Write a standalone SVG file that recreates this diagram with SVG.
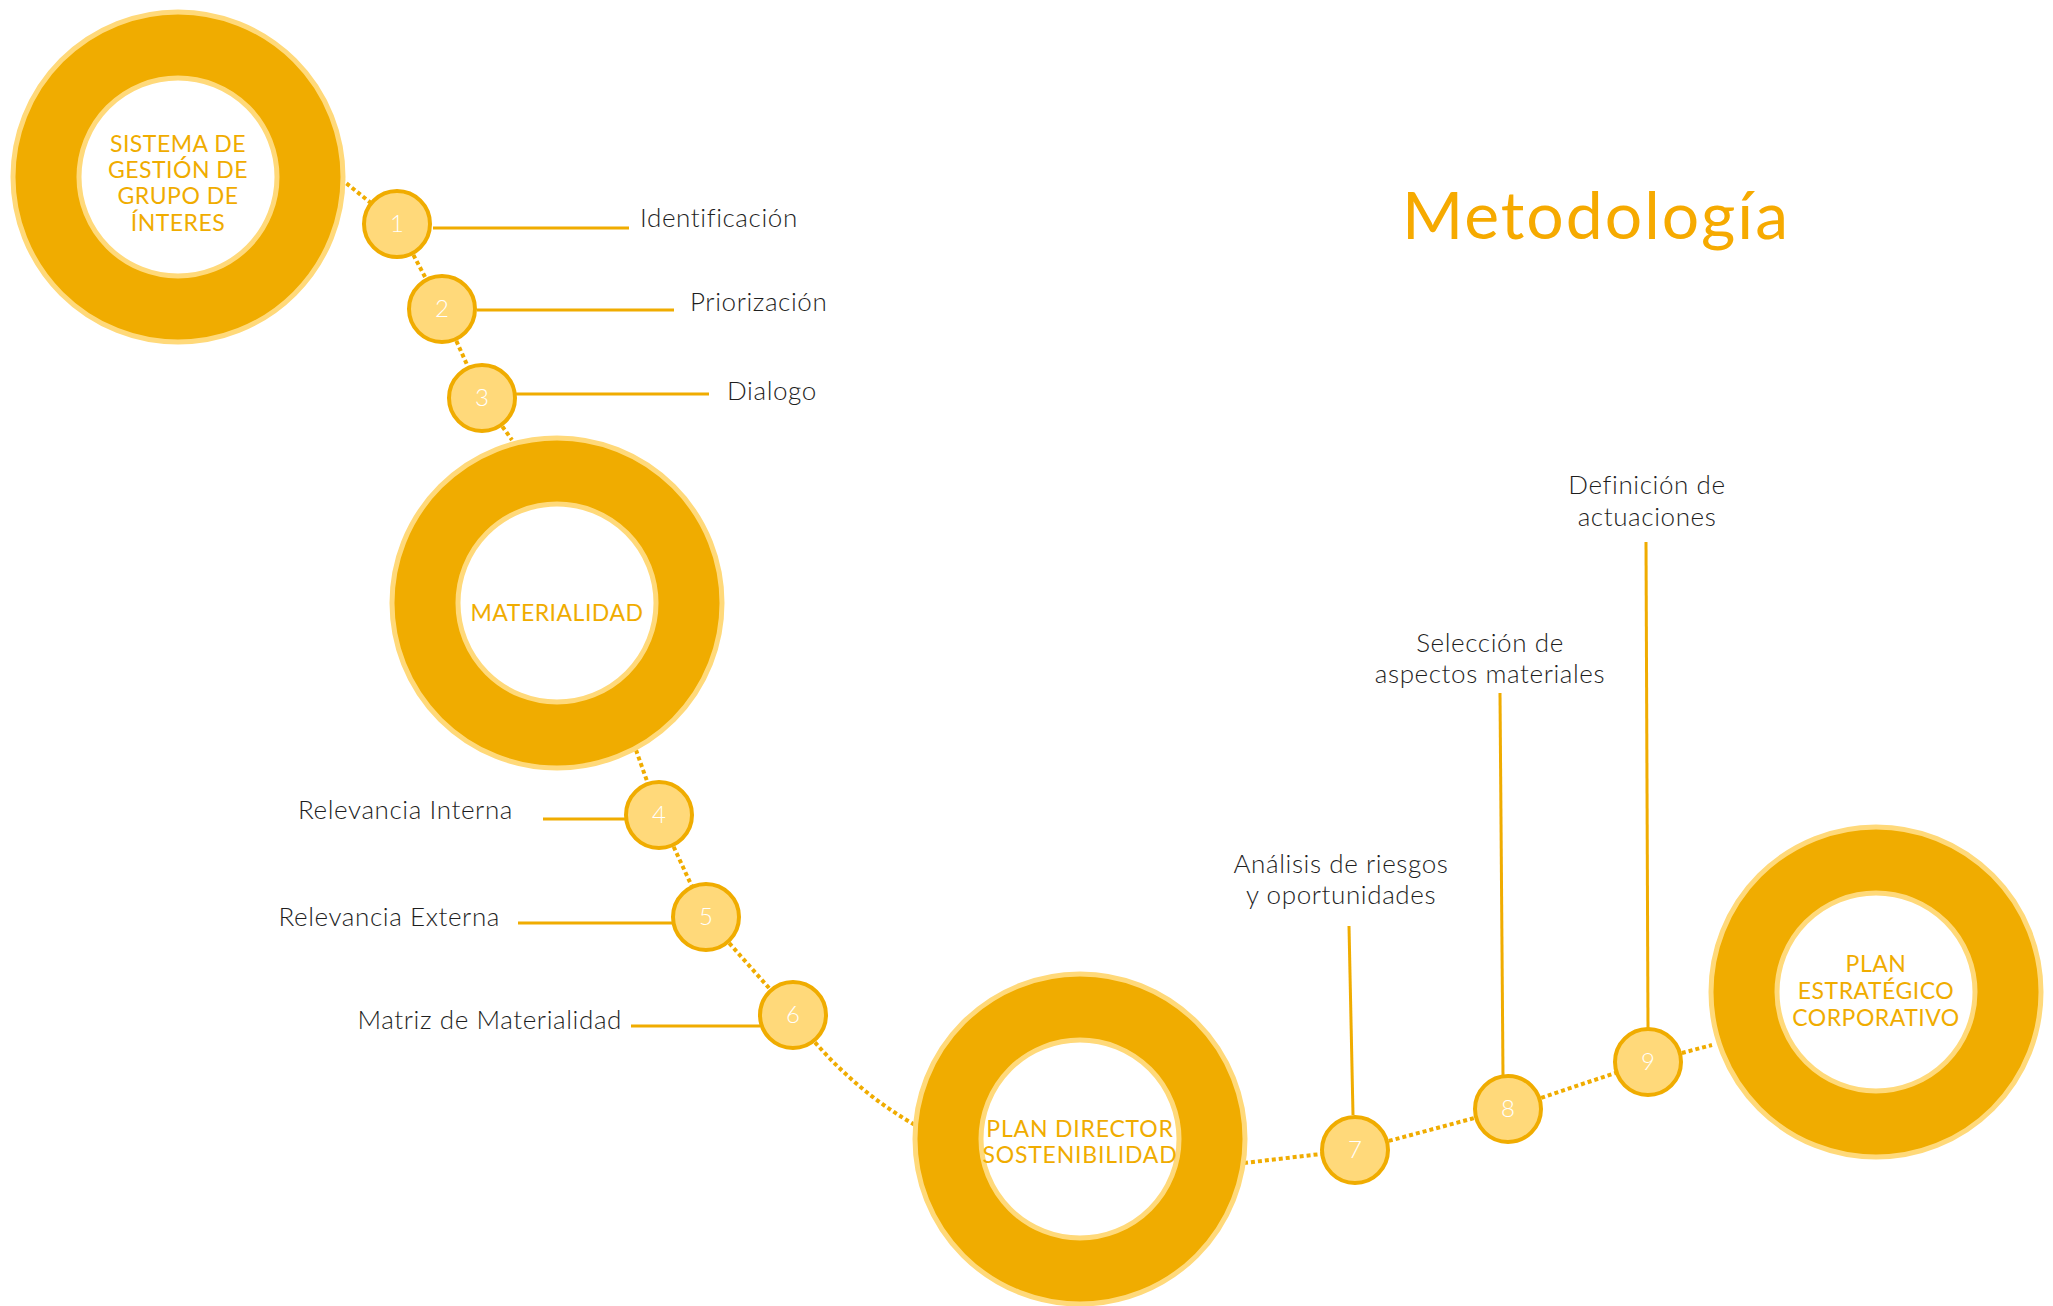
<svg xmlns="http://www.w3.org/2000/svg" width="2053" height="1306" viewBox="0 0 2053 1306">
<style>
.ring-o{fill:#F0AC00;stroke:#FFD97A;stroke-width:5}
.ring-i{fill:#FFFFFF;stroke:#FFD97A;stroke-width:5}
.ring-t{font-family:Lato,"Open Sans","Liberation Sans",sans-serif;font-size:23px;letter-spacing:0.5px;fill:#F0AC00;text-anchor:middle}
.step{fill:#FFD97A;stroke:#F0AC00;stroke-width:4}
.num{font-family:Lato,"Open Sans","Liberation Sans",sans-serif;font-weight:300;font-size:24px;fill:#FFFFFF;text-anchor:middle}
.lbl{font-family:Lato,"Open Sans","Liberation Sans",sans-serif;font-weight:300;font-size:26px;letter-spacing:0.6px;fill:#1E1E1E}
.dot{fill:none;stroke:#F0AC00;stroke-width:4;stroke-dasharray:4 3}
.lead{fill:none;stroke:#F0AC00;stroke-width:3}
.title{font-family:Lato,"Open Sans","Liberation Sans",sans-serif;font-size:66px;letter-spacing:2px;fill:#F6AA00}
</style>
<rect width="2053" height="1306" fill="#FFFFFF"/>
<g id="connectors">
<path class="dot" d="M341 179 L397 224"/>
<path class="dot" d="M397 224 L442 309"/>
<path class="dot" d="M442 309 L482 398"/>
<path class="dot" d="M482 398 L512 440"/>
<path class="dot" d="M636 750 L659 815"/>
<path class="dot" d="M659 815 L706 917"/>
<path class="dot" d="M706 917 L793 1015"/>
<path class="dot" d="M793 1015 Q845 1085 915 1125"/>
<path class="dot" d="M1244 1163 L1355 1150"/>
<path class="dot" d="M1355 1150 L1508 1109"/>
<path class="dot" d="M1508 1109 L1648 1062"/>
<path class="dot" d="M1648 1062 L1712 1045"/>
<path class="lead" d="M433 228 H629"/>
<path class="lead" d="M477 310 H674"/>
<path class="lead" d="M516 394 H709"/>
<path class="lead" d="M543 819 H625"/>
<path class="lead" d="M518 923 H672"/>
<path class="lead" d="M631 1026 H760"/>
<path class="lead" d="M1349 926 L1353 1115"/>
<path class="lead" d="M1500 693 L1503 1075"/>
<path class="lead" d="M1646 542 L1648 1028"/>
</g>
<g id="ring-sistema">
<circle class="ring-o" cx="178" cy="177" r="165"/>
<circle class="ring-i" cx="178" cy="177" r="99"/>
<text class="ring-t" x="178" y="152">SISTEMA DE</text>
<text class="ring-t" x="178" y="178">GESTIÓN DE</text>
<text class="ring-t" x="178" y="204">GRUPO DE</text>
<text class="ring-t" x="178" y="231">ÍNTERES</text>
</g>
<g id="ring-materialidad">
<circle class="ring-o" cx="557" cy="603" r="165"/>
<circle class="ring-i" cx="557" cy="603" r="99"/>
<text class="ring-t" x="557" y="621">MATERIALIDAD</text>
</g>
<g id="ring-plan-director">
<circle class="ring-o" cx="1080" cy="1139" r="165"/>
<circle class="ring-i" cx="1080" cy="1139" r="99"/>
<text class="ring-t" x="1080" y="1137" style="letter-spacing:0.8px">PLAN DIRECTOR</text>
<text class="ring-t" x="1080" y="1163" style="letter-spacing:0.8px">SOSTENIBILIDAD</text>
</g>
<g id="ring-plan-estrategico">
<circle class="ring-o" cx="1876" cy="992" r="165"/>
<circle class="ring-i" cx="1876" cy="992" r="99"/>
<text class="ring-t" x="1876" y="972">PLAN</text>
<text class="ring-t" x="1876" y="999">ESTRATÉGICO</text>
<text class="ring-t" x="1876" y="1026">CORPORATIVO</text>
</g>
<g id="step-1"><circle class="step" cx="397" cy="224" r="33"/><text class="num" x="397" y="232">1</text><text class="lbl" x="640" y="227">Identificación</text></g>
<g id="step-2"><circle class="step" cx="442" cy="309" r="33"/><text class="num" x="442" y="317">2</text><text class="lbl" x="690" y="311">Priorización</text></g>
<g id="step-3"><circle class="step" cx="482" cy="398" r="33"/><text class="num" x="482" y="406">3</text><text class="lbl" x="727" y="400">Dialogo</text></g>
<g id="step-4"><circle class="step" cx="659" cy="815" r="33"/><text class="num" x="659" y="823">4</text><text class="lbl" x="513" y="819" text-anchor="end">Relevancia Interna</text></g>
<g id="step-5"><circle class="step" cx="706" cy="917" r="33"/><text class="num" x="706" y="925">5</text><text class="lbl" x="500" y="926" text-anchor="end">Relevancia Externa</text></g>
<g id="step-6"><circle class="step" cx="793" cy="1015" r="33"/><text class="num" x="793" y="1023">6</text><text class="lbl" x="622" y="1029" text-anchor="end">Matriz de Materialidad</text></g>
<g id="step-7"><circle class="step" cx="1355" cy="1150" r="33"/><text class="num" x="1355" y="1158">7</text><text class="lbl" x="1341" y="873" text-anchor="middle">Análisis de riesgos</text><text class="lbl" x="1341" y="904" text-anchor="middle">y oportunidades</text></g>
<g id="step-8"><circle class="step" cx="1508" cy="1109" r="33"/><text class="num" x="1508" y="1117">8</text><text class="lbl" x="1490" y="652" text-anchor="middle">Selección de</text><text class="lbl" x="1490" y="683" text-anchor="middle">aspectos materiales</text></g>
<g id="step-9"><circle class="step" cx="1648" cy="1062" r="33"/><text class="num" x="1648" y="1070">9</text><text class="lbl" x="1647" y="494" text-anchor="middle">Definición de</text><text class="lbl" x="1647" y="526" text-anchor="middle">actuaciones</text></g>
<g id="title"><text class="title" x="1402" y="239">Metodología</text></g>
</svg>
